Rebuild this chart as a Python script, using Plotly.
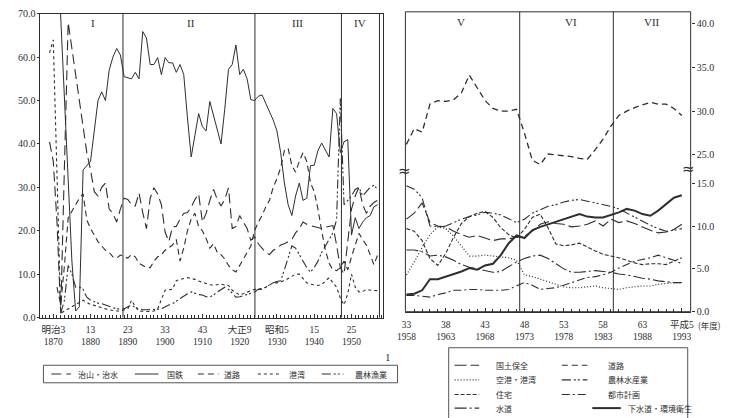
import plotly.graph_objects as go

# ---------------- data (shares, %) ----------------
years_left = list(range(1869, 1958))
chisan_chisui = [40.5, 36, 22, 1, 35, 68, 62, 55.5, 50, 44,
                 38, 34, 29, 28, 30, 31, 25, 24, 22, 25,
                 27.5, 27.2, 26, 25.7, 28.7, 24.2, 20.5, 27.5, 29.9, 28.5,
                 26, 19.7, 17.5, 20.9, 21, 22.7, 24, 24.2, 25.4, 27.2,
                 28.5, 22, 24, 27, 29.5, 27.2, 25.7, 27.2, 29.9, 20.5,
                 21, 23.5, 22, 20.5, 17.8, 18.6, 17, 16, 15, 14.5,
                 15.5, 16, 16.7, 17, 17.5, 18, 19.5, 20.5, 22, 21.5,
                 21.2, 21, 20.8, 20.5, 20.8, 21, 21.2, 16.7, 11.5, 10,
                 18, 25, 28, 30, 26, 24, 25.7, 26.5, 27]
kokutetsu = [None, None, 88, 70, 52, 33, 13, 1.5, 2.5, 34,
             35, 36, 43, 50, 52, 50, 57, 60, 62, 60.5,
             55.5, 55.2, 55, 56.5, 55, 65.9, 64.4, 58.3, 58.3, 59.9,
             56, 59.9, 58.7, 58.7, 56.5, 58.3, 56, 46, 37, 42,
             47, 44, 43, 49.8, 46.5, 43, 40, 48, 57.2, 58.3,
             62.8, 56, 57.2, 55, 50.2, 50, 51, 51.3, 49.5, 47.5,
             45.5, 43, 38, 31, 26, 23.5, 28, 31, 27, 27.5,
             35, 35.1, 38.5, 40.2, 38.5, 37, 48.2, 47, 38, 40.5,
             41, 19, 23, 20.5, 22, 23, 23.5, 25.5, 26]
douro_prewar = [None, None, 7, 3, 12, 23, 24.5, 26, 27.5, 28.5,
                22.5, 20.5, 19, 17.5, 16.5, 15.5, 15, 14, 13.7, 14.4,
                14, 13.7, 14.5, 14, 12.5, 12, 11.5, 11.5, 13, 14,
                14.5, 15.5, 16, 16.7, 18, 13, 16, 20, 22.7, 24,
                21, 20, 18.2, 16, 17, 15, 14.5, 13.5, 12, 11,
                10.5, 12, 13.7, 15, 16.5, 20, 22, 23.5, 25.5, 27,
                30, 32, 34.5, 38.5, 39, 35, 33.5, 36, 38, 36,
                31, 29, 25, 20, 15.5, 12.5, 11, 10.8, 11.5, 13,
                11, 14, 17, 19.4, 18, 16.7, 14.5, 12.2, 14.4]
kouwan = [61, 64, 33, 1, 1.5, 2, 2.5, 3, 3.5, 4,
          3.5, 3, 2.8, 2.5, 2.2, 2, 1.8, 1.6, 1.5, 1.5,
          1.8, 2, 4, 2.5, 1.5, 1.4, 1.4, 1.4, 1.5, 2,
          4, 6.3, 6.4, 6.5, 8.5, 8.8, 9, 9.2, 9, 8.8,
          8.4, 8.1, 7.8, 7.6, 7.4, 7.6, 7.7, 7.5, 7.4, 6.3,
          5.8, 5.2, 5.5, 5.9, 6.2, 6.5, 6.5, 6.8, 7, 7.5,
          8, 8, 8.2, 8.5, 9, 9.5, 10, 10, 9, 8,
          7.7, 7.5, 7.4, 7.6, 8.5, 9.2, 8, 7, 4.5, 2.9,
          5.5, 10, 7, 5.9, 6, 6.5, 6.3, 6.2, 6.2]
nourin_gyogyou = [None, None, None, 1, 4, 12, 10, 7, 7, 6.5,
                  4.7, 4, 3.6, 3.3, 3.2, 2.9, 2.6, 2.3, 2, 2,
                  2, 2.5, 2.9, 2.3, 2, 1.8, 1.8, 1.8, 1.8, 1.9,
                  2, 2.5, 2.9, 3.2, 3.8, 4.5, 5, 5.5, 5.9, 5.6,
                  5.3, 5.2, 4.8, 4.7, 5.2, 5.9, 6.4, 7, 6.5, 5.5,
                  4.7, 4.8, 5, 5.3, 5.6, 5.9, 6.5, 6.5, 7, 7.5,
                  8, 8.3, 8.5, 11, 14, 16.5, 16, 14.5, 13, 11.5,
                  10.5, 11.5, 13, 15, 16.5, 18, 19.5, 22.5, 50.5, 26,
                  27, 28, 29.5, 30, 28, 29, 30, 30.5, 29.5]

years_right = list(range(1958, 1994))
kokudo_hozen = [10.8, 11.5, 12.7, 10.4, 10.0, 9.9, 9.4, 9.0, 8.7, 8.9,
                8.6, 8.3, 8.5, 8.5, 8.7, 8.8, 9.4, 10.2, 10.5, 10.3,
                10.2, 9.9, 10.0, 10.2, 10.6, 10.0, 10.8, 10.4, 10.6, 10.3,
                9.9, 9.5, 9.2, 9.3, 9.6, 10.2]
douro_postwar = [26.2, 28.0, 27.6, 30.8, 31.2, 31.1, 31.3, 32.1, 34.1, 32.6,
                 31.2, 30.3, 30.0, 30.0, 30.2, 27.5, 24.4, 23.9, 25.1, 25.0,
                 24.9, 24.8, 24.6, 24.5, 25.6, 26.8, 28.3, 29.5, 30.0, 30.4,
                 30.7, 31.0, 30.8, 30.8, 30.3, 29.5]
kuukou_kouwan = [4.3, 5.8, 7.5, 9.0, 9.9, 9.7, 8.8, 7.6, 6.5, 6.5,
                 6.6, 6.5, 6.4, 6.3, 6.0, 4.3, 4.1, 3.8, 3.5, 3.2,
                 2.9, 2.8, 2.8, 2.9, 3.0, 2.8, 2.7, 2.6, 2.8, 2.9,
                 3.0, 3.0, 3.2, 3.3, 3.4, 3.4]
nourin_suisan = [14.7, 14.3, 13.3, 10.0, 9.9, 10.0, 10.4, 10.8, 11.1, 11.3,
                 11.6, 11.5, 11.3, 10.8, 10.4, 10.8, 11.5, 11.9, 12.3, 12.5,
                 12.8, 13.0, 13.1, 12.9, 12.7, 12.5, 12.3, 12.0, 11.5, 11.1,
                 10.6, 10.1, 9.7, 9.4, 9.5, 9.7]
juutaku = [9.7, 9.4, 8.3, 6.2, 5.4, 6.8, 8.7, 10.3, 11.1, 11.5,
           11.7, 11.0, 9.8, 9.0, 8.6, 9.6, 11.0, 11.4, 9.8, 7.9,
           7.7, 7.8, 8.0, 7.5, 7.1, 6.7, 6.5, 6.3, 6.0, 5.7,
           5.5, 5.6, 5.6, 5.5, 5.9, 6.3]
toshi_keikaku = [1.9, 1.9, 1.8, 1.7, 2.0, 2.2, 2.5, 2.5, 2.6, 2.6,
                 2.5, 2.5, 2.5, 2.6, 3.0, 3.4, 3.1, 2.6, 2.7, 2.8,
                 3.1, 3.4, 3.7, 4.0, 4.1, 4.3, 4.6, 5.1, 5.5, 5.9,
                 6.1, 6.3, 6.6, 6.3, 6.0, 5.6]
suidou = [7.2, 7.2, 7.0, 6.5, 6.6, 6.4, 6.0, 5.5, 5.2, 5.0,
          4.8, 4.6, 4.7, 5.3, 5.8, 6.2, 6.5, 6.6, 6.2, 5.6,
          5.0, 4.6, 4.6, 4.7, 4.8, 4.7, 4.6, 4.4, 4.3, 4.1,
          3.9, 3.8, 3.6, 3.5, 3.4, 3.4]
gesuidou = [2.0, 2.1, 2.5, 3.8, 3.8, 4.1, 4.4, 4.7, 5.1, 4.9,
            5.4, 5.6, 6.6, 8.0, 8.9, 8.6, 9.5, 9.9, 10.2, 10.5,
            10.8, 11.1, 11.4, 11.1, 11.0, 11.0, 11.3, 11.6, 12.0, 11.8,
            11.4, 11.2, 11.8, 12.5, 13.3, 13.6]

left_tick_years = [1870, 1880, 1890, 1900, 1910, 1920, 1930, 1940, 1950]
left_tick_era = ["明治3", "13", "23", "33", "43", "大正9", "昭和5", "15", "25"]
right_tick_years = [1958, 1963, 1968, 1973, 1978, 1983, 1988, 1993]
right_tick_era = ["33", "38", "43", "48", "53", "58", "63", "平成5"]
left_period_names = ["I", "II", "III", "IV"]
right_period_names = ["V", "VI", "VII"]
left_period_bounds = [1888.7, 1924.1, 1947.3, 1957.5]
right_period_bounds = [1972.4, 1984.3]

# ---------------- geometry / style ----------------
W, H = 733, 418
def fx(p): return p / W
def fy(p): return 1 - p / H

INK = "#2e2e2e"
SERIF = "Liberation Serif, Noto Sans CJK JP, serif"
CJK = "Noto Sans CJK JP, sans-serif"

D_LONG = "10px,5px"
D_ROAD = "6px,4px"
D_SHORT = "3px,3px"
D_DDOT = "9px,3px,2px,2px,2px,3px"
D_DOT = "1px,2px"
D_DASHDOT = "8px,3px,2px,3px"
D_WATER = "12px,3px,2px,3px"
D_HOUSE = "4px,2px"
D_KOKUDO = "12px,4px"

fig = go.Figure()

left_series = [("治山・治水", chisan_chisui, D_LONG, 1.1),
               ("国鉄", kokutetsu, "solid", 1.0),
               ("道路", douro_prewar, D_ROAD, 1.1),
               ("港湾", kouwan, D_SHORT, 1.1),
               ("農林漁業", nourin_gyogyou, D_DDOT, 1.1)]
for name, vals, dash, w in left_series:
    fig.add_trace(go.Scatter(x=years_left, y=vals, mode="lines", name=name,
                             line=dict(color=INK, width=w, dash=dash),
                             xaxis="x", yaxis="y", showlegend=False))

right_series = [("国土保全", kokudo_hozen, D_KOKUDO, 1.1),
                ("空港・港湾", kuukou_kouwan, D_DOT, 1.2),
                ("農林水産業", nourin_suisan, D_DDOT, 1.1),
                ("住宅", juutaku, D_HOUSE, 1.1),
                ("都市計画", toshi_keikaku, D_DASHDOT, 1.1),
                ("水道", suidou, D_WATER, 1.1),
                ("下水道・環境衛生", gesuidou, "solid", 2.0)]
for name, vals, dash, w in right_series:
    fig.add_trace(go.Scatter(x=years_right, y=vals, mode="lines", name=name,
                             line=dict(color=INK, width=w, dash=dash),
                             xaxis="x2", yaxis="y2", showlegend=False))
fig.add_trace(go.Scatter(x=years_right, y=douro_postwar, mode="lines", name="道路",
                         line=dict(color=INK, width=1.3, dash=D_ROAD),
                         xaxis="x2", yaxis="y3", showlegend=False))

tickfont = dict(family=SERIF, size=10, color=INK)
xtickfont = dict(family=SERIF, size=9.5, color=INK)

fig.update_layout(
    width=W, height=H, margin=dict(l=0, r=0, t=0, b=0),
    paper_bgcolor="white", plot_bgcolor="white", showlegend=False,
    xaxis=dict(domain=[fx(32), fx(380)], range=[1866.57, 1958.39], anchor="y",
               tickmode="array", tickvals=left_tick_years,
               ticktext=[f"{e}<br>{y}" for e, y in zip(left_tick_era, left_tick_years)],
               ticks="inside", ticklen=4, tickcolor=INK, tickwidth=1, ticklabelstandoff=3,
               minor=dict(ticks="inside", dtick=1, tick0=1870, ticklen=3, tickcolor=INK, showgrid=False),
               showline=True, linecolor=INK, linewidth=1, mirror=True,
               showgrid=False, zeroline=False, tickfont=xtickfont),
    yaxis=dict(domain=[fy(321), fy(9)], range=[0, 70], anchor="x",
               tickvals=[0, 10, 20, 30, 40, 50, 60, 70], tickformat=".1f",
               ticks="outside", ticklen=2, tickcolor=INK,
               showline=True, linecolor=INK, linewidth=1, mirror=True,
               showgrid=False, zeroline=False, tickfont=tickfont),
    xaxis2=dict(domain=[fx(403), fx(693)], range=[1957.875, 1994.125], anchor="y2",
                tickmode="array", tickvals=right_tick_years,
                ticktext=[f"{e}<br>{y}" for e, y in zip(right_tick_era, right_tick_years)],
                ticks="inside", ticklen=4, tickcolor=INK, ticklabelstandoff=4,
                minor=dict(ticks="inside", dtick=1, tick0=1958, ticklen=3, tickcolor=INK, showgrid=False),
                showline=True, linecolor=INK, linewidth=1,
                showgrid=False, zeroline=False, tickfont=xtickfont),
    yaxis2=dict(domain=[fy(315), fy(170)], range=[0, 16.48], anchor="x2", side="right",
                tickvals=[0, 5, 10, 15], tickformat=".1f",
                ticks="outside", ticklen=3, tickcolor=INK,
                showline=False, showgrid=False, zeroline=False, tickfont=tickfont),
    yaxis3=dict(domain=[fy(168), fy(7)], range=[23.44, 41.33], anchor="x2", side="right",
                tickvals=[25, 30, 35, 40], tickformat=".1f",
                ticks="outside", ticklen=3, tickcolor=INK,
                showline=False, showgrid=False, zeroline=False, tickfont=tickfont),
)

shapes = []
for b in left_period_bounds:
    shapes.append(dict(type="line", xref="x", yref="y domain", x0=b, x1=b, y0=0, y1=1,
                       line=dict(color=INK, width=1)))
for b in right_period_bounds:
    shapes.append(dict(type="line", xref="x2", yref="paper", x0=b, x1=b, y0=fy(315), y1=fy(7),
                       line=dict(color=INK, width=1)))
# right panel frame
shapes.append(dict(type="rect", xref="x2 domain", yref="paper", x0=0, x1=1, y0=fy(315), y1=fy(7),
                   line=dict(color=INK, width=1)))

annotations = []
def note(text, x, y, xref="paper", xanchor="center", font=None):
    annotations.append(dict(text=text, x=x, y=y, xref=xref, yref="paper", showarrow=False,
                            xanchor=xanchor, yanchor="middle",
                            font=font or dict(family=SERIF, size=11, color=INK)))

left_period_pos = [1880.6, 1906.9, 1935.4, 1952.3]
for name, xp in zip(left_period_names, left_period_pos):
    note(name, xp, fy(18), xref="x")
right_period_pos = [1965.0, 1978.9, 1989.2]
for name, xp in zip(right_period_names, right_period_pos):
    note(name, xp, fy(17), xref="x2")
# axis break marks
for bx, by in [(402, 170), (691, 168)]:
    note("≈", fx(bx), fy(by), font=dict(family="DejaVu Sans", size=15, color=INK))
note("(年度)", fx(698), fy(329), xanchor="left", font=dict(family=CJK, size=8.5, color=INK))
note("1", fx(385), fy(362))

legend_font = dict(family=CJK, size=8, color=INK)

# ---- legend (left) ----
shapes.append(dict(type="rect", xref="paper", yref="paper", x0=fx(35), x1=fx(395), y0=fy(388), y1=fy(370),
                   line=dict(color="#555555", width=1)))
left_leg_pos = [(43, 63, 68), (128, 152, 159), (192, 213, 217), (253, 277, 283), (318, 340, 350)]
for (name, _, dash, w), (s0, s1, t0) in zip(left_series, left_leg_pos):
    shapes.append(dict(type="line", xref="paper", yref="paper", x0=fx(s0), x1=fx(s1), y0=fy(379), y1=fy(379),
                       line=dict(color=INK, width=w, dash=dash)))
    note(name, fx(t0), fy(379), xanchor="left", font=legend_font)

# ---- legend (right) ----
shapes.append(dict(type="rect", xref="paper", yref="paper", x0=fx(447), x1=fx(690), y0=fy(440), y1=fy(352),
                   line=dict(color="#555555", width=1)))
right_leg = [("国土保全", D_KOKUDO, 1.1), ("道路", D_ROAD, 1.1),
             ("空港・港湾", D_DOT, 1.2), ("農林水産業", D_DDOT, 1.1),
             ("住宅", D_HOUSE, 1.1), ("都市計画", D_DASHDOT, 1.1),
             ("水道", D_WATER, 1.1), ("下水道・環境衛生", "solid", 2.0)]
row_y = [370, 385, 400, 414]
for i, (name, dash, w) in enumerate(right_leg):
    r, c = divmod(i, 2)
    if c == 0:
        s0, s1, t0 = 453, 478, 493
    elif r == 3:
        s0, s1, t0 = 593, 622, 627
    else:
        s0, s1, t0 = 562, 588, 607
    yy = row_y[r]
    shapes.append(dict(type="line", xref="paper", yref="paper", x0=fx(s0), x1=fx(s1), y0=fy(yy), y1=fy(yy),
                       line=dict(color=INK, width=w, dash=dash)))
    note(name, fx(t0), fy(yy), xanchor="left", font=legend_font)

fig.update_layout(shapes=shapes, annotations=annotations)
fig.write_html("out.html",
               config={"displayModeBar": False},
               post_script="document.body.style.margin='0';document.body.style.overflow='hidden';")
